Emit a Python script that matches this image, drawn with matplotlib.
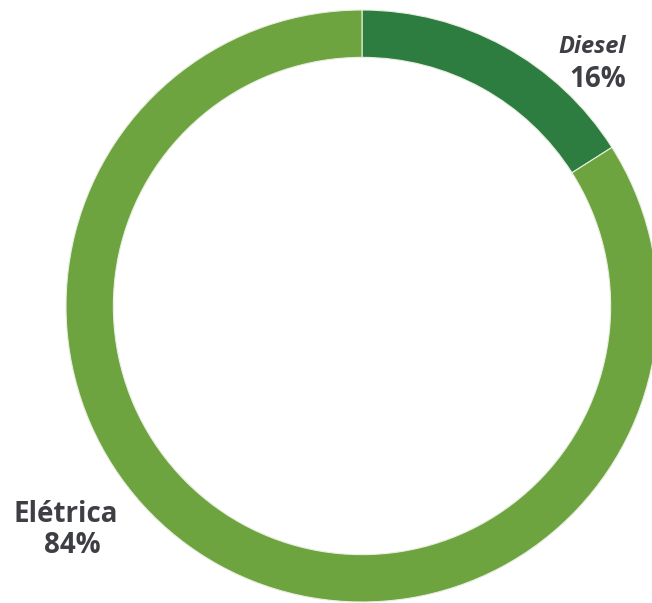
import matplotlib.pyplot as plt

labels = ["Diesel", "Elétrica"]
shares = [16, 84]
colors = ["#2d7d40", "#6ea43f"]

W, H = 652, 603
fig = plt.figure(figsize=(W / 100, H / 100), dpi=100)
ax = fig.add_axes([0, 0, 1, 1])

# ring centre and radius in pixels
cx, cy, r = 362, 306, 296

ax.pie(shares, colors=colors, startangle=90, counterclock=False,
       wedgeprops=dict(width=0.16, edgecolor="#e8eee0", linewidth=0.8))
ax.set_aspect("auto")
ax.set_xlim(-cx / r, (W - cx) / r)
ax.set_ylim(-(H - cy) / r, cy / r)
ax.axis("off")

txt = "#3e3f44"
fig.text(626 / W, 1 - 53 / H, labels[0], ha="right", va="baseline",
         fontsize=17, fontstyle="italic", fontweight="bold",
         family="Open Sans", color=txt)
fig.text(626 / W, 1 - 87 / H, f"{shares[0]}%", ha="right", va="baseline",
         fontsize=20, fontweight="bold", family="Open Sans", color=txt)
fig.text(66 / W, 1 - 522 / H, labels[1], ha="center", va="baseline",
         fontsize=20, fontweight="bold", family="Open Sans", color=txt)
fig.text(72 / W, 1 - 553 / H, f"{shares[1]}%", ha="center", va="baseline",
         fontsize=20, fontweight="bold", family="Open Sans", color=txt)

fig.savefig("out.png", dpi=100)
